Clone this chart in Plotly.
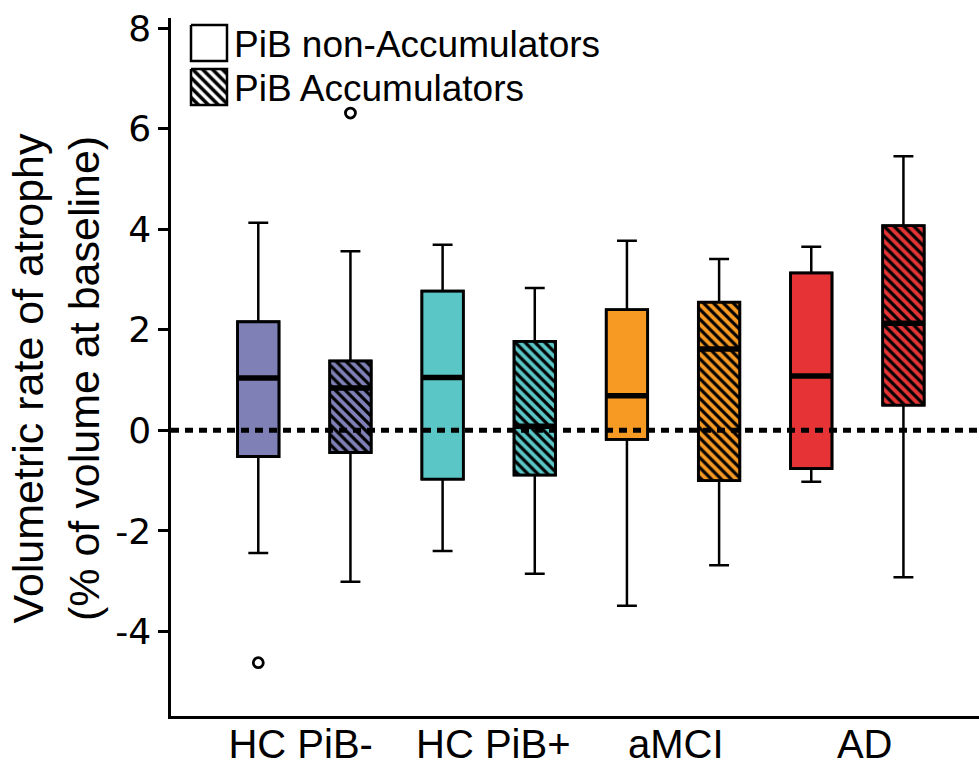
import plotly.graph_objects as go

# Groups and tick labels
groups = ["HC PiB-", "HC PiB+", "aMCI", "AD"]
group_label_pos = [0.46, 2.55, 4.53, 6.58]
group_colors = ["#7f80b6", "#5bc6c6", "#f69a24", "#e63436"]
y_ticks = [-4, -2, 0, 2, 4, 6, 8]
y_tick_text = ["-4", "-2", "0", "2", "4", "6", "8"]

# Box statistics (volumetric rate of atrophy, % of baseline volume)
# PiB non-Accumulators
non_q1 = [-0.52, -0.97, -0.18, -0.76]
non_med = [1.04, 1.05, 0.69, 1.08]
non_q3 = [2.16, 2.77, 2.40, 3.13]
non_lo = [-2.44, -2.40, -3.49, -1.02]
non_hi = [4.13, 3.69, 3.77, 3.65]

# PiB Accumulators
acc_q1 = [-0.44, -0.89, -1.00, 0.50]
acc_med = [0.84, 0.08, 1.62, 2.13]
acc_q3 = [1.38, 1.77, 2.55, 4.07]
acc_lo = [-3.01, -2.85, -2.68, -2.92]
acc_hi = [3.56, 2.83, 3.41, 5.45]

# Outliers (group index, accumulator flag, value)
out_group = [0, 0]
out_acc = [False, True]
out_val = [-4.62, 6.31]

BOX_W = 0.45
non_x = [2 * i for i in range(len(groups))]
acc_x = [2 * i + 1 for i in range(len(groups))]

fig = go.Figure()

# Box bodies (bars carry the fill and hatching)
fig.add_trace(go.Bar(
    x=non_x, base=non_q1, y=[h - l for h, l in zip(non_q3, non_q1)],
    width=BOX_W, marker=dict(color=group_colors, line=dict(color="black", width=2.8)),
    showlegend=False, hoverinfo="skip"))
for x, q1, q3, col in zip(acc_x, acc_q1, acc_q3, group_colors):
    fig.add_trace(go.Bar(
        x=[x], base=[q1], y=[q3 - q1], width=BOX_W,
        marker=dict(color=col, line=dict(color="black", width=2.8),
                    pattern=dict(shape="\\", fillmode="replace", fgcolor="black",
                                 bgcolor=col, fgopacity=1, size=7, solidity=0.45)),
        showlegend=False, hoverinfo="skip"))

# Whiskers and outlines
for xs, q1, med, q3, lo, hi in [(non_x, non_q1, non_med, non_q3, non_lo, non_hi),
                                (acc_x, acc_q1, acc_med, acc_q3, acc_lo, acc_hi)]:
    fig.add_trace(go.Box(
        x=xs, q1=q1, median=med, q3=q3, lowerfence=lo, upperfence=hi,
        width=BOX_W, whiskerwidth=0.48, fillcolor="rgba(0,0,0,0)",
        line=dict(color="black", width=2.5), boxpoints=False, showlegend=False))

    # Heavier median bars
    mx, my = [], []
    for x, m in zip(xs, med):
        mx += [x - BOX_W / 2, x + BOX_W / 2, None]
        my += [m, m, None]
    fig.add_trace(go.Scatter(x=mx, y=my, mode="lines",
                             line=dict(color="black", width=5.5),
                             showlegend=False, hoverinfo="skip"))

# Outliers
fig.add_trace(go.Scatter(
    x=[2 * g + (1 if a else 0) for g, a in zip(out_group, out_acc)], y=out_val,
    mode="markers",
    marker=dict(symbol="circle", size=10, color="white",
                line=dict(color="black", width=2.8)),
    showlegend=False))

# Legend keys drawn on a pixel-scaled overlay axis
legend_labels = ["PiB non-Accumulators", "PiB Accumulators"]
key_top = [25, 69]
KEY = 36
for i, (lab, top) in enumerate(zip(legend_labels, key_top)):
    sq_x = [191, 191 + KEY, 191 + KEY, 191, 191]
    sq_y = [top, top, top + KEY, top + KEY, top]
    kw = dict(fillcolor="white")
    if i == 1:
        kw = dict(fillcolor="white",
                  fillpattern=dict(shape="\\", fillmode="replace", fgcolor="black",
                                   bgcolor="white", size=7, solidity=0.5))
    fig.add_trace(go.Scatter(x=sq_x, y=sq_y, xaxis="x2", yaxis="y2",
                             mode="lines", fill="toself",
                             line=dict(color="black", width=2.5),
                             showlegend=False, hoverinfo="skip", **kw))
    fig.add_annotation(x=232, y=top + KEY / 2 + 1, xref="x2", yref="y2",
                       text=lab, showarrow=False, xanchor="left", yanchor="middle",
                       font=dict(family="Liberation Sans, Arial", size=37, color="black"))

# Dashed reference line at zero
fig.add_shape(type="line", xref="paper", x0=0, x1=1, yref="y", y0=0, y1=0,
              layer="above", line=dict(color="black", width=5, dash="8px,6px"))

# Y-axis title
fig.add_annotation(
    text="Volumetric rate of atrophy<br>(% of volume at baseline)",
    xref="paper", yref="paper", x=-0.142, y=0.484,
    xanchor="center", yanchor="middle", textangle=-90, showarrow=False,
    font=dict(family="Liberation Sans, Arial", size=43, color="black"))

fig.update_layout(
    width=979, height=765,
    margin=dict(l=171, r=0, t=18, b=49),
    paper_bgcolor="white", plot_bgcolor="white",
    barmode="overlay", boxmode="overlay",
    showlegend=False,
    xaxis=dict(range=[-0.947, 7.82], showgrid=False, zeroline=False,
               showline=True, linecolor="black", linewidth=2.5, automargin=False,
               tickvals=group_label_pos, ticktext=groups, ticks="",
               ticklabelstandoff=-9,
               tickfont=dict(family="Liberation Sans, Arial", size=40, color="black")),
    yaxis=dict(range=[-5.68, 8.2], showgrid=False, zeroline=False,
               showline=True, linecolor="black", linewidth=2.5, automargin=False,
               tickvals=y_ticks, ticktext=y_tick_text,
               ticks="outside", ticklen=10, tickwidth=2.5, tickcolor="black",
               tickfont=dict(family="DejaVu Sans", size=36, color="black")),
    xaxis2=dict(overlaying="x", range=[171, 979], visible=False),
    yaxis2=dict(overlaying="y", range=[716, 18], visible=False),
)

fig.write_html("out.html")
